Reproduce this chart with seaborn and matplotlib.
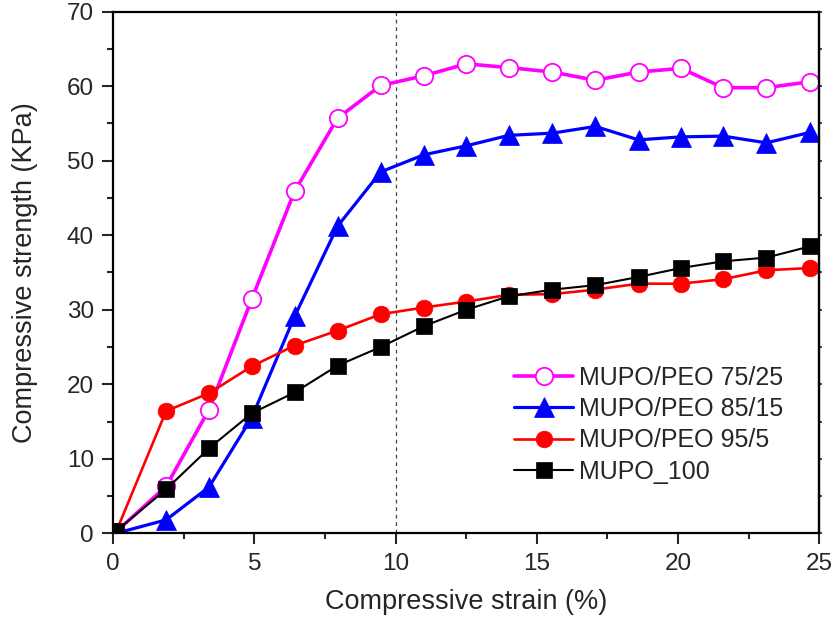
import numpy as np
import matplotlib.pyplot as plt
import seaborn as sns
from matplotlib.ticker import MultipleLocator

# SECTION - DATA
strain = [0.1, 1.87, 3.39, 4.9, 6.42, 7.94, 9.47, 11.0, 12.5, 14.0,
          15.55, 17.07, 18.6, 20.1, 21.6, 23.13, 24.67]
peo_75_25 = [0.2, 6.3, 16.6, 31.4, 45.9, 55.7, 60.1, 61.4, 63.0, 62.5,
             61.9, 60.8, 61.9, 62.4, 59.8, 59.8, 60.6]
peo_85_15 = [0.0, 1.8, 6.2, 15.5, 29.1, 41.2, 48.5, 50.8, 52.0, 53.4,
             53.7, 54.6, 52.8, 53.2, 53.3, 52.4, 53.8]
peo_95_5 = [0.2, 16.4, 18.8, 22.4, 25.2, 27.2, 29.4, 30.3, 31.1, 32.0,
            32.1, 32.7, 33.5, 33.5, 34.1, 35.3, 35.6]
mupo_100 = [0.3, 5.9, 11.4, 16.1, 18.9, 22.5, 25.0, 27.8, 30.0, 31.8,
            32.7, 33.3, 34.4, 35.6, 36.5, 37.0, 38.5]

labels = ["MUPO/PEO 75/25", "MUPO/PEO 85/15", "MUPO/PEO 95/5", "MUPO_100"]
# !SECTION

# SECTION - CONFIG
sns.set_style("ticks")
plt.rcParams["font.family"] = ["Liberation Sans", "DejaVu Sans"]
plt.rcParams["font.size"] = 18
# !SECTION

fig = plt.figure(figsize=(8.36, 6.28), dpi=100)
ax = fig.add_axes([0.1355, 0.1508, 0.8445, 0.8306])

styles = [
    dict(color="#ff00ff", marker="o", markersize=12.5, markerfacecolor="white",
         markeredgecolor="#ff00ff", markeredgewidth=1.3, linewidth=2.6),
    dict(color="#0000ff", marker="^", markersize=14.5, markerfacecolor="#0000ff",
         markeredgecolor="#0000ff", markeredgewidth=0.5, linewidth=2.3),
    dict(color="#ff0000", marker="o", markersize=12, markerfacecolor="#ff0000",
         markeredgecolor="#ff0000", markeredgewidth=0.5, linewidth=1.9),
    dict(color="black", marker="s", markersize=11.5, markerfacecolor="black",
         markeredgecolor="black", markeredgewidth=0.5, linewidth=1.5),
]

for series, label, st in zip([peo_75_25, peo_85_15, peo_95_5, mupo_100], labels, styles):
    sns.lineplot(x=strain, y=series, label=label, ax=ax, **st)

# Dashed line at 10 % strain
ax.axvline(10, color="#444444", linestyle=(0, (3, 3)), linewidth=0.9, zorder=0)

ax.set_xlim(0, 25)
ax.set_ylim(0, 70)
ax.xaxis.set_major_locator(MultipleLocator(5))
ax.xaxis.set_minor_locator(MultipleLocator(2.5))
ax.yaxis.set_major_locator(MultipleLocator(10))
ax.yaxis.set_minor_locator(MultipleLocator(5))
ax.tick_params(which="major", direction="out", length=8, width=1.5, labelsize=17.5, pad=6)
ax.tick_params(which="minor", direction="out", length=4.5, width=1.5)
for sp in ax.spines.values():
    sp.set_linewidth(1.6)
    sp.set_color("black")

# short ticks on the right spine
sec = ax.secondary_yaxis("right")
sec.yaxis.set_major_locator(MultipleLocator(5))
sec.tick_params(direction="out", length=2, width=1.2, labelright=False)
sec.spines["right"].set_linewidth(1.6)

ax.set_xlabel("Compressive strain (%)", fontsize=19.5, labelpad=10)
ax.set_ylabel("Compressive strength (KPa)", fontsize=19.5, labelpad=21)

ax.legend(loc="upper left", bbox_to_anchor=(0.554, 0.340), frameon=False,
          fontsize=18, handlelength=2.35, handletextpad=0.25, labelspacing=0.29,
          borderaxespad=0)

fig.savefig("out.png", dpi=100)
